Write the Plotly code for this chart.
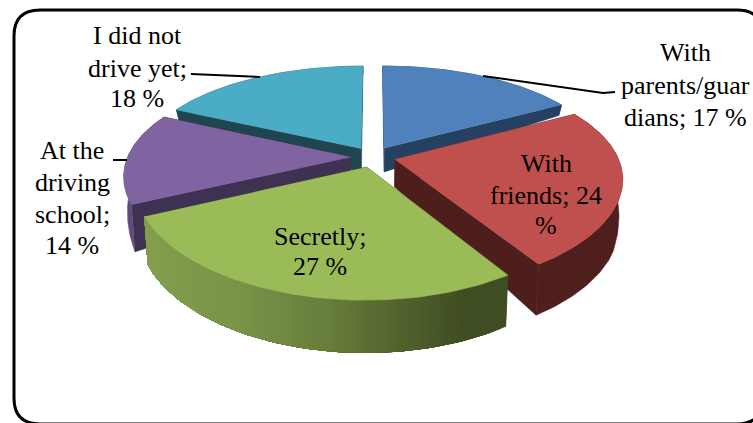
import numpy as np
import plotly.graph_objects as go

# Survey shares, clockwise from twelve o'clock
categories = ["With parents/guardians", "With friends", "Secretly", "At the driving school", "I did not drive yet"]
values = [17, 24, 27, 14, 18]
label_lines = [
    ["With", "parents/guar", "dians; {v} %"],
    ["With", "friends; {v}", "%"],
    ["Secretly;", "{v} %"],
    ["At the", "driving", "school;", "{v} %"],
    ["I did not", "drive yet;", "{v} %"],
]
top_colors = ["#4F81BD", "#C0504D", "#9BBB59", "#8064A2", "#4BACC6"]
cut_colors = ["#254061", "#4D1E1C", "#3F4C22", "#3F3151", "#1F4650"]
rim_colors = ["#254061", "#4F1F1D", None, "#5F4A80", "#1F4650"]

# Oblique projection of the exploded pie
CX, CY = 373.0, 157.0
RX, RY = 223.0, 102.0
PERSP_X, PERSP_Y = 0.17, 0.2
EXPLODE = 0.1
DEPTH_V = [-1.2, -0.55, 0.0, 0.44, 1.2]
DEPTH_H = [8.0, 10.5, 26.0, 48.0, 53.0]


def project(u, v):
    return CX + RX * u / (1.0 - PERSP_X * v), CY + RY * v / (1.0 - PERSP_Y * v)


def drop(x, y, v):
    """Lower edge of the extruded side below a point of the top face."""
    return CX + (x - CX) * 0.985, y + np.interp(v, DEPTH_V, DEPTH_H)


fig = go.Figure()


def poly(xs, ys, color):
    fig.add_trace(go.Scatter(
        x=list(xs), y=list(ys), mode="lines", fill="toself", fillcolor=color,
        line=dict(color=color, width=0.6), hoverinfo="skip", showlegend=False,
    ))


def green_shade(t):
    stops = [0.0, 0.25, 0.5, 0.68, 0.88, 1.0]
    r = np.interp(t, stops, [132, 122, 104, 84, 63, 63])
    g = np.interp(t, stops, [158, 148, 126, 102, 77, 77])
    b = np.interp(t, stops, [78, 72, 60, 46, 34, 34])
    return f"rgb({r:.0f},{g:.0f},{b:.0f})"


bounds = np.concatenate([[0], np.cumsum(values)]) / sum(values) * 2 * np.pi
slices = []
for i in range(len(values)):
    a0, a1 = bounds[i], bounds[i + 1]
    mid = (a0 + a1) / 2
    ou, ov = EXPLODE * np.sin(mid), -EXPLODE * np.cos(mid)
    th = np.linspace(a0, a1, 72)
    u = ou + np.sin(th)
    v = ov - np.cos(th)
    ax, ay = project(ou, ov)
    x, y = project(u, v)
    bx, by = drop(x, y, v)
    abx, aby = drop(ax, ay, ov)
    slices.append(dict(ax=ax, ay=ay, ov=ov, x=x, y=y, bx=bx, by=by, abx=abx, aby=aby))

# The front slice overlaps its neighbours, so it goes last
for i in [0, 4, 3, 1, 2]:
    s = slices[i]
    # straight cut faces on both radii
    for k in (0, -1):
        poly([s["ax"], s["x"][k], s["bx"][k], s["abx"]],
             [s["ay"], s["y"][k], s["by"][k], s["aby"]], cut_colors[i])
    # curved rim; the shaded one is painted as overlapping bands to avoid seams
    if rim_colors[i] is not None:
        poly(np.concatenate([s["x"], s["bx"][::-1]]),
             np.concatenate([s["y"], s["by"][::-1]]), rim_colors[i])
    else:
        lo, hi = s["bx"].min(), s["bx"].max()
        for k in range(len(s["x"]) - 1):
            t = (0.5 * (s["bx"][k] + s["bx"][k + 1]) - lo) / (hi - lo)
            poly(np.concatenate([s["x"][k:], s["bx"][k:][::-1]]),
                 np.concatenate([s["y"][k:], s["by"][k:][::-1]]),
                 green_shade(t))
    poly(np.concatenate([[s["ax"]], s["x"]]),
         np.concatenate([[s["ay"]], s["y"]]), top_colors[i])

# Leader lines from outside labels to their slices
leaders = [
    ([483, 603, 615], [76, 93, 92]),
    ([113, 127], [160, 160]),
    ([191, 260], [74, 77]),
]
for lx, ly in leaders:
    fig.add_trace(go.Scatter(x=lx, y=ly, mode="lines", line=dict(color="black", width=2),
                             hoverinfo="skip", showlegend=False))

label_x = [685, 546, 320, 72, 137]
label_y = [[52, 85, 117], [163, 195, 225], [236, 266], [150, 182, 214, 245], [35, 68, 98]]
for i, lines in enumerate(label_lines):
    for line, ypos in zip(lines, label_y[i]):
        fig.add_annotation(x=label_x[i], y=ypos, text=line.format(v=values[i]), showarrow=False,
                           xanchor="center", yanchor="middle",
                           font=dict(family="Liberation Serif", size=26, color="black"))

# Rounded chart frame, partly running off the right and bottom
fig.add_shape(type="path", line=dict(color="black", width=3), layer="above",
              path="M 14 36 Q 14 10 40 10 L 737 10 Q 763 10 763 36 L 763 398 Q 763 424 737 424 "
                   "L 40 424 Q 14 424 14 398 Z")

fig.update_layout(
    width=753, height=423, margin=dict(l=0, r=0, t=0, b=0),
    paper_bgcolor="white", plot_bgcolor="white", showlegend=False,
    xaxis=dict(range=[0, 753], visible=False, fixedrange=True),
    yaxis=dict(range=[423, 0], visible=False, fixedrange=True),
)
fig.write_html("out.html", config={"displayModeBar": False})
